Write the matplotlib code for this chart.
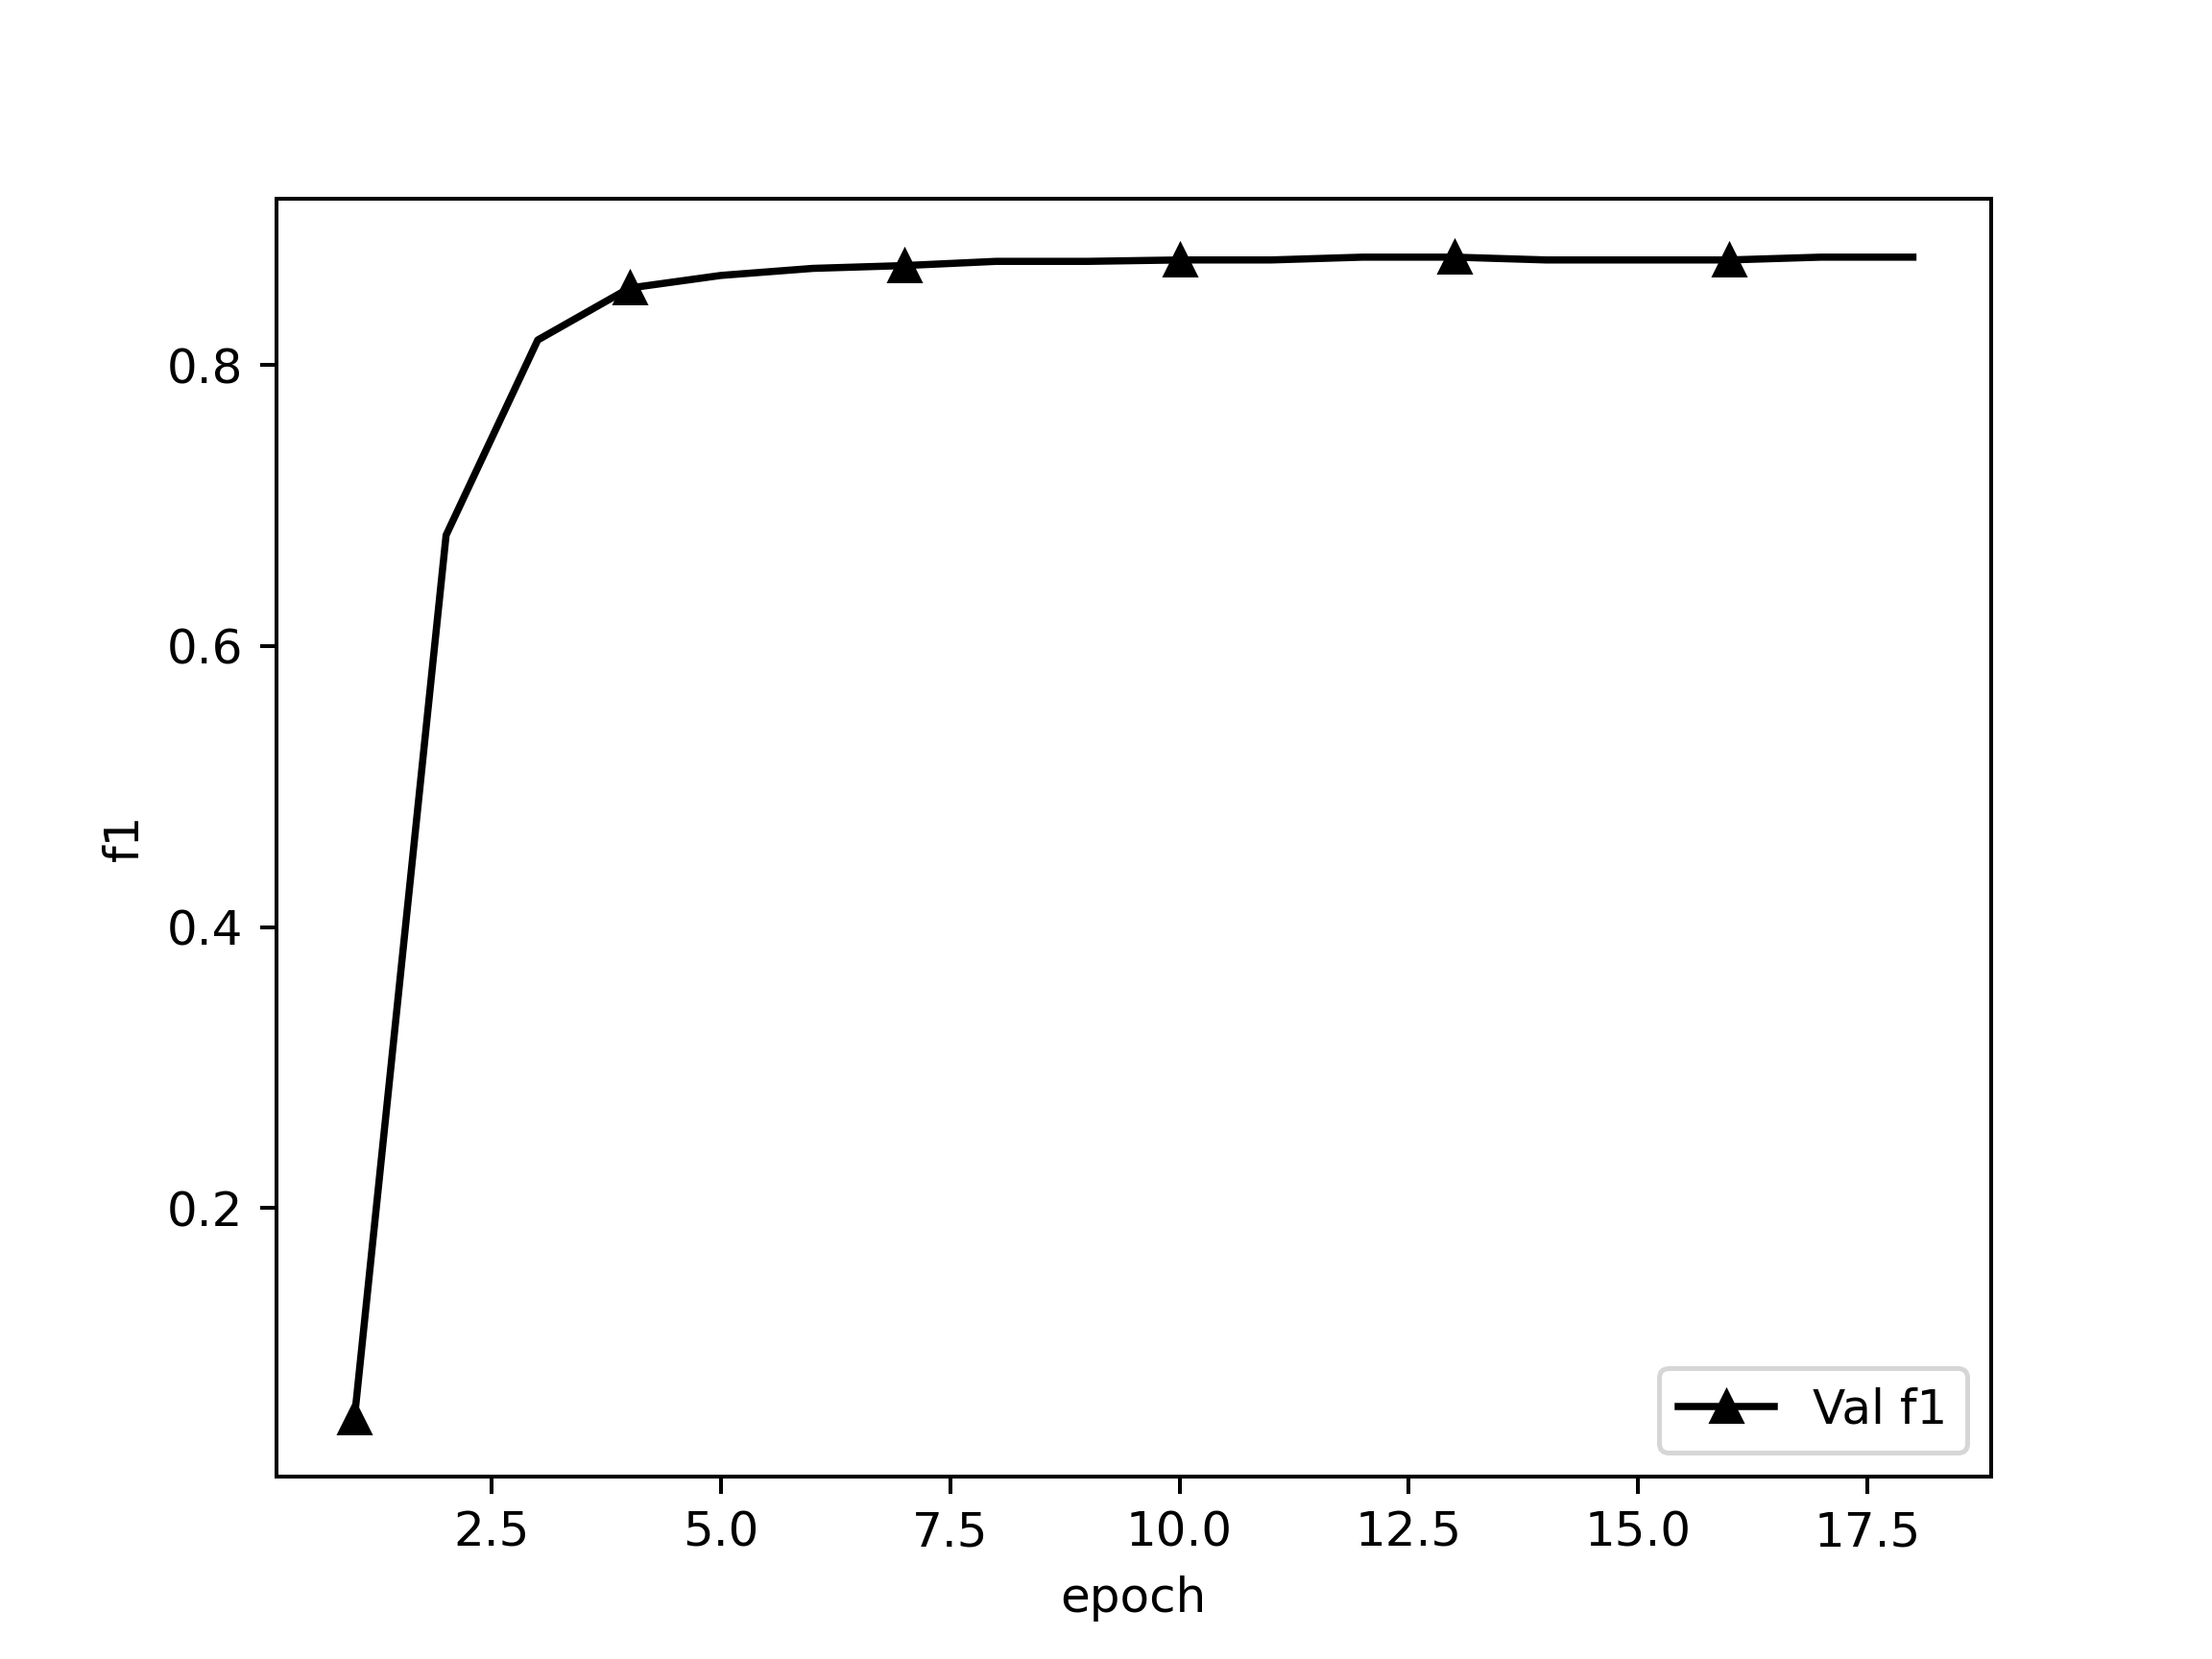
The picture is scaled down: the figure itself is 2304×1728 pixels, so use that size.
import matplotlib
matplotlib.use("Agg")
import matplotlib.pyplot as plt

epochs = list(range(1, 19))
val_f1 = [0.050, 0.679, 0.818, 0.855, 0.864, 0.869, 0.871, 0.874, 0.874,
          0.875, 0.875, 0.877, 0.877, 0.875, 0.875, 0.875, 0.877, 0.877]

fig, ax = plt.subplots(figsize=(6.4, 4.8), dpi=360)
ax.plot(epochs, val_f1, color="black", marker="^", markevery=3, label="Val f1")
ax.set_xlabel("epoch")
ax.set_ylabel("f1")
ax.legend(loc="lower right")
fig.savefig("out.png", dpi=360)
